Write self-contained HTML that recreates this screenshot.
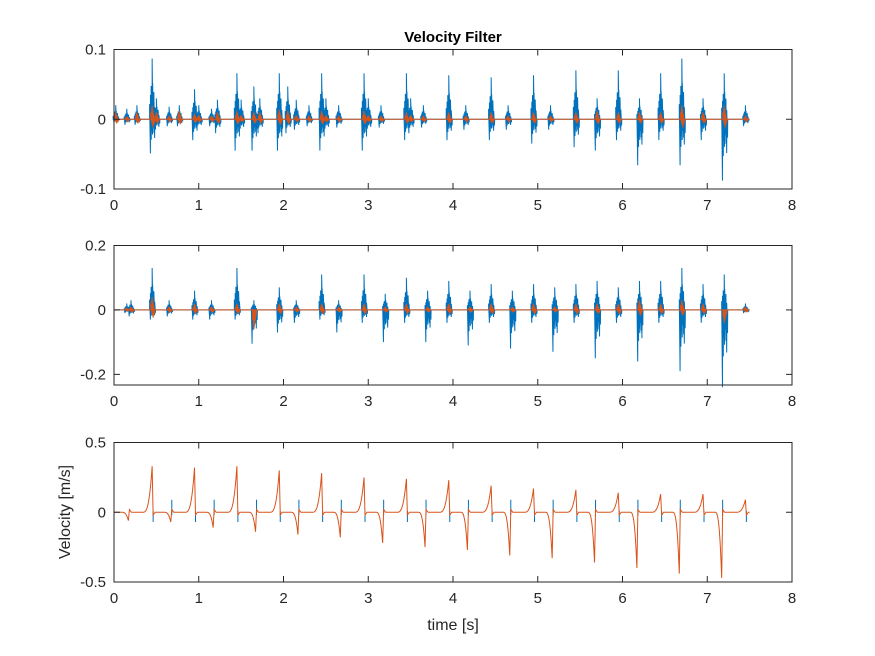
<!DOCTYPE html>
<html><head><meta charset="utf-8">
<style>
body{margin:0;background:#fff;}
svg{display:block;font-family:"Liberation Sans",Arial,sans-serif;}
</style></head>
<body>
<svg id="fig" width="875" height="656" viewBox="0 0 875 656">
<rect width="875" height="656" fill="#fff"/>
<text x="453" y="42" text-anchor="middle" font-size="15" font-weight="bold" fill="#000">Velocity Filter</text>
<g id="plots"></g>
</svg>
<script>
// ---- data ----
const xTicks = [0,1,2,3,4,5,6,7,8];
// top subplot: blue bursts (time, max, min), orange bursts
const topT  = [0.02,0.15,0.27,0.45,0.5,0.65,0.77,0.95,1.0,1.15,1.22,1.45,1.5,1.65,1.72,1.95,2.05,2.15,2.3,2.45,2.5,2.65,2.95,3.0,3.15,3.45,3.5,3.65,3.95,4.15,4.45,4.65,4.95,5.15,5.45,5.7,5.95,6.2,6.45,6.7,6.95,7.2,7.45];
const topHi = [0.02,0.015,0.02,0.087,0.03,0.018,0.02,0.043,0.02,0.015,0.028,0.066,0.028,0.047,0.03,0.066,0.047,0.028,0.02,0.066,0.03,0.02,0.066,0.03,0.02,0.066,0.03,0.02,0.063,0.02,0.06,0.02,0.063,0.02,0.07,0.03,0.07,0.03,0.066,0.087,0.03,0.066,0.02];
const topLo = [-0.005,-0.008,-0.008,-0.049,-0.02,-0.01,-0.01,-0.03,-0.015,-0.01,-0.02,-0.045,-0.02,-0.045,-0.02,-0.045,-0.02,-0.015,-0.01,-0.045,-0.02,-0.012,-0.045,-0.02,-0.012,-0.03,-0.02,-0.012,-0.03,-0.015,-0.03,-0.015,-0.035,-0.015,-0.04,-0.045,-0.03,-0.066,-0.03,-0.066,-0.03,-0.088,-0.01];
const topOr = [0.01,0.004,0.01,0.02,0.01,0.005,0.012,0.008,0.006,0.005,0.01,0.012,0.006,0.01,0.01,0.014,0.012,0.006,0.005,0.012,0.006,0.005,0.012,0.006,0.005,0.01,0.006,0.005,0.01,0.005,0.01,0.005,0.01,0.005,0.01,0.012,0.01,0.01,0.01,0.02,0.01,0.02,0.005];
// middle subplot
const midT  = [0.15,0.2,0.45,0.65,0.95,1.15,1.45,1.65,1.95,2.15,2.45,2.65,2.95,3.2,3.45,3.7,3.95,4.2,4.45,4.7,4.95,5.2,5.45,5.7,5.95,6.2,6.45,6.7,6.95,7.2,7.45];
const midHi = [0.02,0.03,0.13,0.03,0.06,0.03,0.13,0.03,0.07,0.03,0.11,0.03,0.11,0.05,0.1,0.06,0.09,0.06,0.08,0.06,0.08,0.07,0.08,0.09,0.07,0.09,0.09,0.13,0.08,0.11,0.02];
const midLo = [-0.01,-0.02,-0.03,-0.02,-0.03,-0.03,-0.03,-0.105,-0.07,-0.04,-0.03,-0.07,-0.04,-0.1,-0.04,-0.1,-0.04,-0.11,-0.04,-0.12,-0.04,-0.13,-0.04,-0.15,-0.04,-0.16,-0.04,-0.19,-0.04,-0.24,-0.01];
const midOr = [0.005,0.01,0.04,0.01,0.02,0.01,0.02,-0.06,0.02,0.01,0.02,0.01,0.02,0.01,0.02,0.01,0.02,0.01,0.02,0.01,0.02,0.01,0.02,0.02,0.02,0.03,0.02,0.03,0.02,-0.04,0.01];
// bottom subplot: positive ramps and negative dips
const posT = [0.45,0.95,1.45,1.95,2.45,2.95,3.45,3.95,4.45,4.95,5.45,5.95,6.45,6.95,7.45];
const posV = [0.33,0.32,0.33,0.30,0.28,0.25,0.24,0.23,0.19,0.17,0.16,0.14,0.13,0.13,0.09];
const negT = [0.17,0.67,1.17,1.67,2.17,2.67,3.17,3.67,4.17,4.67,5.17,5.67,6.17,6.67,7.17];
const negV = [-0.06,-0.07,-0.11,-0.14,-0.16,-0.18,-0.22,-0.25,-0.27,-0.31,-0.33,-0.36,-0.40,-0.44,-0.47];

const NS='http://www.w3.org/2000/svg';
const root=document.getElementById('plots');
function el(tag,attrs,parent){const e=document.createElementNS(NS,tag);for(const k in attrs)e.setAttribute(k,attrs[k]);(parent||root).appendChild(e);return e;}
const X0=114,X1=792;
function sx(t){return X0+(t/8)*(X1-X0);}
const BLUE='#0072bd',ORANGE='#d95319';

function axes(name,top,bot,ymin,ymax,yticks,ylabels){
  const g=el('g',{});
  
  
  const sy=v=>bot-(v-ymin)/(ymax-ymin)*(bot-top);
  return {g,sy,top,bot,yticks,ylabels};
}
function frame(a){
  const {g,sy,top,bot,yticks,ylabels}=a;
  const f=el('rect',{x:X0,y:top,width:X1-X0,height:bot-top,fill:'none',stroke:'#262626','stroke-width':1},g);
  
  
  xTicks.forEach(t=>{
    const x=sx(t);
    el('line',{x1:x,x2:x,y1:bot,y2:bot-6,stroke:'#262626'},g);
    el('line',{x1:x,x2:x,y1:top,y2:top+6,stroke:'#262626'},g);
    const tx=el('text',{x:x,y:bot+21,'text-anchor':'middle','font-size':15,fill:'#262626'},g);
    tx.textContent=t;
    
    
  });
  yticks.forEach((v,i)=>{
    const y=sy(v);
    el('line',{x1:X0,x2:X0+6,y1:y,y2:y,stroke:'#262626'},g);
    el('line',{x1:X1,x2:X1-6,y1:y,y2:y,stroke:'#262626'},g);
    const tx=el('text',{x:X0-8,y:y+5,'text-anchor':'end','font-size':15,fill:'#262626'},g);
    tx.textContent=ylabels[i];
    
    
  });
}
function spikes(a,T,Hi,Lo,Or,name){
  const {g,sy}=a;
  let d='M'+sx(0)+','+sy(0);
  const offs=[-0.03,-0.02,-0.012,-0.005,0,0.006,0.012,0.02,0.03];
  const fr=[0.25,0.4,0.55,0.3,1,0.6,0.35,0.45,0.2];
  T.forEach((t,i)=>{
    offs.forEach((o,j)=>{
      const x=sx(t+o);
      d+=' L'+x+','+sy(0)+' L'+x+','+sy(Hi[i]*fr[j])+' L'+(x+0.8)+','+sy(Lo[i]*fr[(j+4)%9])+' L'+(x+1)+','+sy(0);
    });
  });
  d+=' L'+sx(7.5)+','+sy(0);
  const p=el('path',{d:d,fill:'none',stroke:BLUE,'stroke-width':1},g);
  
  
  let d2='M'+sx(0)+','+sy(0);
  T.forEach((t,i)=>{
    [-0.015,-0.005,0,0.008,0.016].forEach((o,j)=>{
      const x=sx(t+o);const f=[0.5,0.8,1,0.7,0.4][j];
      d2+=' L'+x+','+sy(0)+' L'+x+','+sy(Or[i]*f)+' L'+(x+1)+','+sy(-Math.abs(Or[i])*f*0.6)+' L'+(x+1.5)+','+sy(0);
    });
  });
  d2+=' L'+sx(7.5)+','+sy(0);
  const p2=el('path',{d:d2,fill:'none',stroke:ORANGE,'stroke-width':1},g);
  
  
}

// top
const A1=axes('top-subplot',49.5,189,-0.1,0.1,[-0.1,0,0.1],['-0.1','0','0.1']);
spikes(A1,topT,topHi,topLo,topOr,'top');
frame(A1);
// middle
const A2=axes('middle-subplot',245.5,385,-0.233,0.2,[-0.2,0,0.2],['-0.2','0','0.2']);
spikes(A2,midT,midHi,midLo,midOr,'middle');
frame(A2);
// bottom
const A3=axes('bottom-subplot',442.5,582,-0.5,0.5,[-0.5,0,0.5],['-0.5','0','0.5']);
(function(){
  const {g,sy}=A3;
  let db='';
  posT.forEach((t,i)=>{const x=sx(t)+1;db+='M'+x+','+sy(0.01)+' L'+x+','+sy(-0.07)+' ';});
  negT.forEach((t,i)=>{const x=sx(t)+1;if(t>0.5)db+='M'+x+','+sy(0.09)+' L'+x+','+sy(-0.02)+' ';});
  const pb=el('path',{d:db,fill:'none',stroke:BLUE,'stroke-width':1},g);
  
  
  const ev=[];
  posT.forEach((t,i)=>ev.push({t,v:posV[i],p:true}));
  negT.forEach((t,i)=>ev.push({t,v:negV[i],p:false}));
  ev.sort((a,b)=>a.t-b.t);
  let d='M'+sx(0)+','+sy(0);
  ev.forEach(e=>{
    const w=e.p?0.11:0.08;
    for(let k=0;k<=12;k++){const s=k/12;const t=e.t-w+w*s;d+=' L'+sx(t)+','+sy(e.v*Math.pow(s,3));}
    if(e.p) d+=' L'+(sx(e.t)+1)+','+sy(-0.02)+' L'+(sx(e.t)+3)+','+sy(0);
    else d+=' L'+(sx(e.t)+1)+','+sy(0.02)+' L'+(sx(e.t)+3)+','+sy(0);
  });
  d+=' L'+sx(7.5)+','+sy(0);
  const po=el('path',{d:d,fill:'none',stroke:ORANGE,'stroke-width':1},g);
  
  
})();
frame(A3);
const yl=el('text',{x:0,y:0,transform:'translate(70,512) rotate(-90)','text-anchor':'middle','font-size':16,fill:'#262626'});
yl.textContent='Velocity [m/s]';


const xl=el('text',{x:453,y:630,'text-anchor':'middle','font-size':16,fill:'#262626'});
xl.textContent='time [s]';


</script>
</body></html>
